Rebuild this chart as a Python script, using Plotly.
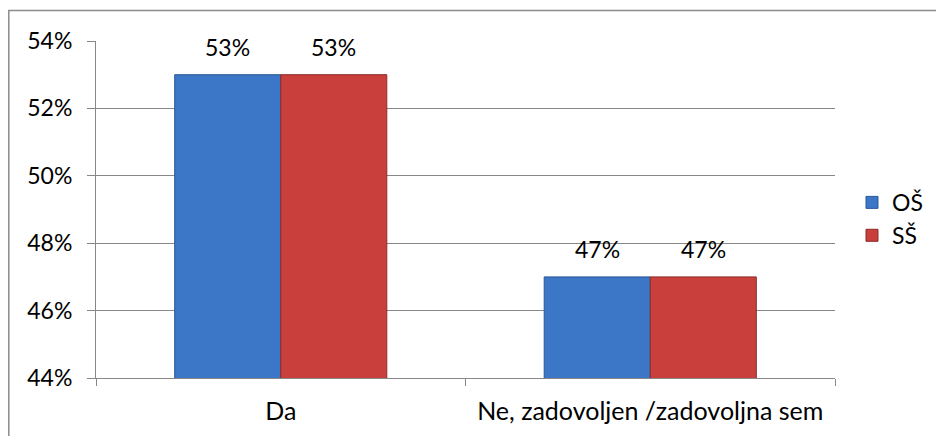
import plotly.graph_objects as go

categories = ["Da", "Ne, zadovoljen /zadovoljna sem"]
series_names = ["OŠ", "SŠ"]
os_values = [53, 47]
ss_values = [53, 47]
y_ticks = [44, 46, 48, 50, 52, 54]

colors = {"OŠ": "#3C76C6", "SŠ": "#C93F3C"}
edges = {"OŠ": "#2B5895", "SŠ": "#8C2B29"}
FONT = "Lato, Carlito, Calibri, sans-serif"
FS = 23

fig = go.Figure()
for name, vals in zip(series_names, [os_values, ss_values]):
    fig.add_trace(go.Bar(
        name=name, x=categories, y=vals, base=0,
        marker=dict(color=colors[name], line=dict(color=edges[name], width=1)),
    ))

# data labels
for i, cat in enumerate(categories):
    for j, (name, vals) in enumerate(zip(series_names, [os_values, ss_values])):
        fig.add_annotation(
            x=cat, y=vals[i], xref="x", yref="y", text=f"{vals[i]}%",
            showarrow=False, yanchor="middle", yshift=28,
            xshift=(-53 if j == 0 else 53),
            font=dict(family=FONT, size=FS, color="#000000"),
        )

# outer chart border
fig.add_shape(type="rect", xref="paper", yref="paper",
              x0=-0.118, x1=1.3, y0=-0.3, y1=1.0905,
              line=dict(color="#8C8C8C", width=1.5), layer="below")

fig.update_layout(
    width=936, height=428,
    margin=dict(l=88, r=109, t=33, b=58),
    paper_bgcolor="white", plot_bgcolor="white",
    barmode="group", bargap=0.426, bargroupgap=0,
    font=dict(family=FONT, size=FS, color="#000000"),
    legend=dict(x=1.023, y=0.472, xanchor="left", yanchor="middle",
                font=dict(family=FONT, size=FS), tracegroupgap=0,
                itemwidth=30, bgcolor="rgba(0,0,0,0)"),
    showlegend=True,
)
fig.update_yaxes(
    range=[44, 54], tickvals=y_ticks, ticktext=[f"{v}%" for v in y_ticks],
    showgrid=True, gridcolor="#888888", gridwidth=1,
    showline=True, linecolor="#888888", linewidth=1,
    ticks="outside", ticklen=8, tickcolor="#888888",
    ticklabelstandoff=10, zeroline=False,
    tickfont=dict(family=FONT, size=FS, color="#000000"),
)
fig.update_xaxes(
    showline=True, linecolor="#888888", linewidth=1,
    ticks="outside", ticklen=7, tickcolor="#888888", tickson="boundaries",
    ticklabelstandoff=11,
    tickfont=dict(family=FONT, size=25, color="#000000"),
)
fig.write_html("out.html")
